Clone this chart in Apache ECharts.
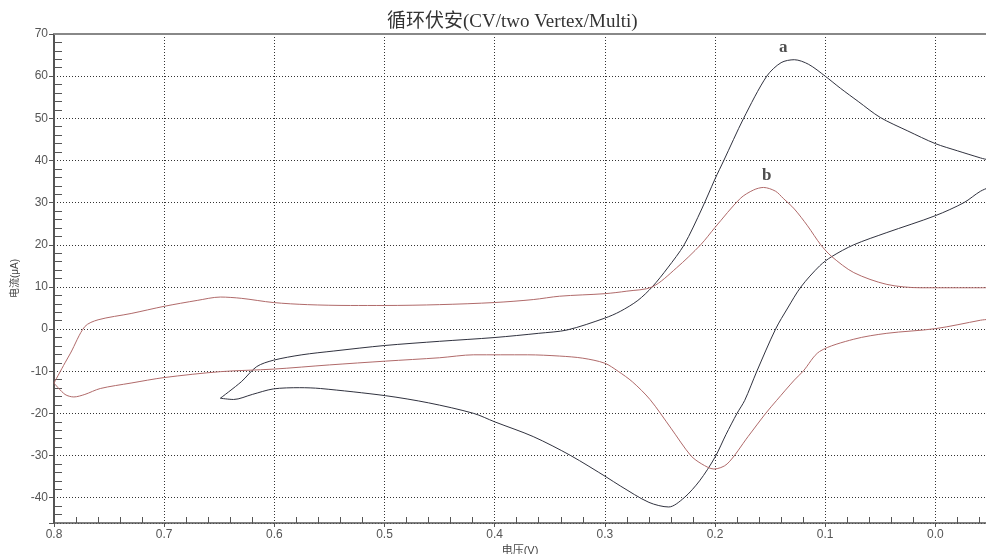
<!DOCTYPE html>
<html>
<head>
<meta charset="utf-8">
<script src="https://cdn.jsdelivr.net/npm/echarts@6/dist/echarts.min.js"></script>
<style>html,body{margin:0;padding:0;background:#fff;}#c{width:986px;height:554px;}</style>
</head>
<body>
<div id="c"></div>
<script>
// Curve a (black): potential (V) and current (uA), traced in sweep order
const aX = [0.649,0.63,0.616,0.601,0.575,0.546,0.50,0.45,0.40,0.36,0.334,0.30,0.286,0.27,0.257,0.243,0.228,0.212,0.20,0.192,0.174,0.153,0.14,0.128,0.115,0.10,0.086,0.07,0.05,0.025,0.0,-0.02,-0.041,-0.07,
            -0.07,-0.041,-0.026,0.0,0.044,0.074,0.094,0.105,0.122,0.134,0.145,0.162,0.173,0.18,0.19,0.20,0.214,0.228,0.242,0.26,0.286,0.298,0.331,0.365,0.40,0.419,0.46,0.499,0.558,0.577,0.601,0.62,0.637,0.649];
const aY = [-16.4,-12.5,-8.9,-7.4,-6.1,-5.2,-3.9,-2.9,-2.0,-1.0,-0.2,2.6,4.2,6.8,10,14.5,20,28.5,35.6,40,50,60,63.2,63.9,62.8,60,57.1,54,50.2,47,44,42.3,40.6,38.3,
            36.5,32.7,30,26.9,22.9,20,17.2,15,10,5,0,-10,-16.9,-20,-25,-30.4,-36,-40,-42.2,-41.1,-37.2,-35.2,-30,-25.5,-22.0,-20.0,-17.5,-15.8,-14.1,-13.9,-14.2,-15.5,-16.7,-16.4];
// Curve b (red)
const bX = [0.8,0.79,0.785,0.772,0.76,0.73,0.70,0.67,0.649,0.63,0.601,0.57,0.531,0.50,0.45,0.40,0.365,0.341,0.30,0.28,0.257,0.235,0.213,0.20,0.177,0.165,0.156,0.145,0.138,0.128,0.116,0.104,0.094,0.074,0.044,0.013,-0.041,-0.07,
            -0.07,-0.041,0.0,0.044,0.074,0.105,0.12,0.128,0.144,0.154,0.17,0.189,0.201,0.212,0.222,0.24,0.259,0.275,0.288,0.30,0.32,0.341,0.37,0.419,0.45,0.499,0.55,0.601,0.649,0.70,0.73,0.758,0.772,0.782,0.79,0.8];
const bY = [-12.8,-8,-5.7,0.6,2.2,3.7,5.4,6.8,7.6,7.3,6.3,5.8,5.6,5.6,5.8,6.3,7.0,7.8,8.4,9.0,10,14.5,20,24.1,31,33,33.6,32.7,31.0,28.5,24.5,20,17.2,13.4,10.6,9.8,9.8,10.0,
            3.5,2.1,0.1,-1.0,-2.4,-5.3,-10,-12.1,-16.9,-20,-25.5,-32,-33.2,-32,-30,-23.5,-16.7,-12.5,-10,-8.1,-6.9,-6.4,-6.1,-6.1,-6.8,-7.6,-8.5,-9.5,-10.1,-11.5,-12.8,-14.1,-15.5,-16.1,-15.5,-12.8];
// Curve labels
const tagNames = ['a','b'];
const tagX = [0.138,0.153];
const tagY = [66.7,36.4];
// Axis ranges / ticks
const xMin = -0.046, xMax = 0.8, xStep = 0.1;
const yMin = -46, yMax = 70, yStep = 10;

const zip = (xs, ys) => xs.map((x, i) => [x, ys[i]]);
const chart = echarts.init(document.getElementById('c'));
const gridPos = {left: 54, top: 34, right: 0, bottom: 31, outerBoundsMode: 'none', containLabel: false};
const sans = 'Liberation Sans, Arial, sans-serif';
const isMult = (v, s) => Math.abs(v / s - Math.round(v / s)) < 1e-6;

chart.setOption({
  animation: false,
  backgroundColor: '#fff',
  title: {
    text: '循环伏安(CV/two Vertex/Multi)',
    left: 382, top: 8,
    textStyle: {fontFamily: 'Liberation Serif, Noto Sans CJK SC, serif', fontSize: 19, fontWeight: 'normal', color: '#333'}
  },
  grid: [Object.assign({}, gridPos), Object.assign({}, gridPos)],
  xAxis: [
    {
      type: 'value', gridIndex: 0, position: 'bottom', inverse: true,
      min: xMin, max: xMax, minInterval: xStep, maxInterval: xStep, splitNumber: 8,
      name: '电压(V)', nameLocation: 'middle', nameGap: 17,
      nameTextStyle: {fontFamily: sans + ', Noto Sans CJK SC', fontSize: 11, color: '#444'},
      axisLine: {onZero: false, lineStyle: {color: '#555', width: 1.5}},
      axisTick: {show: true, inside: false, length: 4, lineStyle: {color: '#555'}},
      axisLabel: {fontFamily: sans, fontSize: 12, color: '#555', margin: 6,
        formatter: v => isMult(v, xStep) ? (Math.abs(v) < 1e-9 ? '0.0' : v.toFixed(1)) : ''},
      splitLine: {show: true, lineStyle: {color: '#333', type: [1, 2], width: 1}}
    },
    {
      type: 'value', gridIndex: 0, position: 'top', inverse: true,
      min: xMin, max: xMax,
      axisLine: {onZero: false, lineStyle: {color: '#888', width: 2}},
      axisTick: {show: false}, axisLabel: {show: false}, splitLine: {show: false}
    },
    {
      type: 'value', gridIndex: 1, position: 'bottom', inverse: true,
      min: xMin, max: xMax, minInterval: xStep, maxInterval: xStep, splitNumber: 8,
      axisLine: {show: false, onZero: false},
      axisTick: {show: false, inside: true},
      minorTick: {show: true, splitNumber: 5, length: 6, lineStyle: {color: '#555'}},
      axisLabel: {show: false}, splitLine: {show: false}
    }
  ],
  yAxis: [
    {
      type: 'value', gridIndex: 0, position: 'left',
      min: yMin, max: yMax, minInterval: yStep, maxInterval: yStep, splitNumber: 12,
      name: '电流(μA)', nameLocation: 'middle', nameGap: 31, nameRotate: 90,
      nameTextStyle: {fontFamily: sans + ', Noto Sans CJK SC', fontSize: 10, color: '#444'},
      axisLine: {onZero: false, lineStyle: {color: '#555', width: 2}},
      axisTick: {show: true, inside: false, length: 5, lineStyle: {color: '#555'}},
      axisLabel: {fontFamily: sans, fontSize: 12, color: '#555', margin: 6,
        formatter: v => isMult(v, yStep) ? String(Math.round(v)) : ''},
      splitLine: {show: true, lineStyle: {color: '#333', type: [1, 2], width: 1}}
    },
    {
      type: 'value', gridIndex: 1, position: 'left',
      min: yMin, max: yMax, minInterval: yStep, maxInterval: yStep, splitNumber: 12,
      axisLine: {show: false, onZero: false},
      axisTick: {show: false, inside: true},
      minorTick: {show: true, splitNumber: 5, length: 8, lineStyle: {color: '#555'}},
      axisLabel: {show: false}, splitLine: {show: false}
    }
  ],
  series: [
    {
      name: 'a', type: 'line', xAxisIndex: 0, yAxisIndex: 0,
      data: zip(aX, aY), showSymbol: false, smooth: 0.3,
      lineStyle: {color: '#30323f', width: 1}
    },
    {
      name: 'b', type: 'line', xAxisIndex: 0, yAxisIndex: 0,
      data: zip(bX, bY), showSymbol: false, smooth: 0.3,
      lineStyle: {color: '#b06a6a', width: 1}
    },
    {
      type: 'scatter', xAxisIndex: 0, yAxisIndex: 0, symbolSize: 0,
      data: tagNames.map((n, i) => ({name: n, value: [tagX[i], tagY[i]]})),
      label: {show: true, position: 'inside', formatter: p => p.name,
        fontFamily: 'Liberation Serif, serif', fontWeight: 'bold', fontSize: 17, color: '#222'}
    }
  ]
});
</script>
</body>
</html>
